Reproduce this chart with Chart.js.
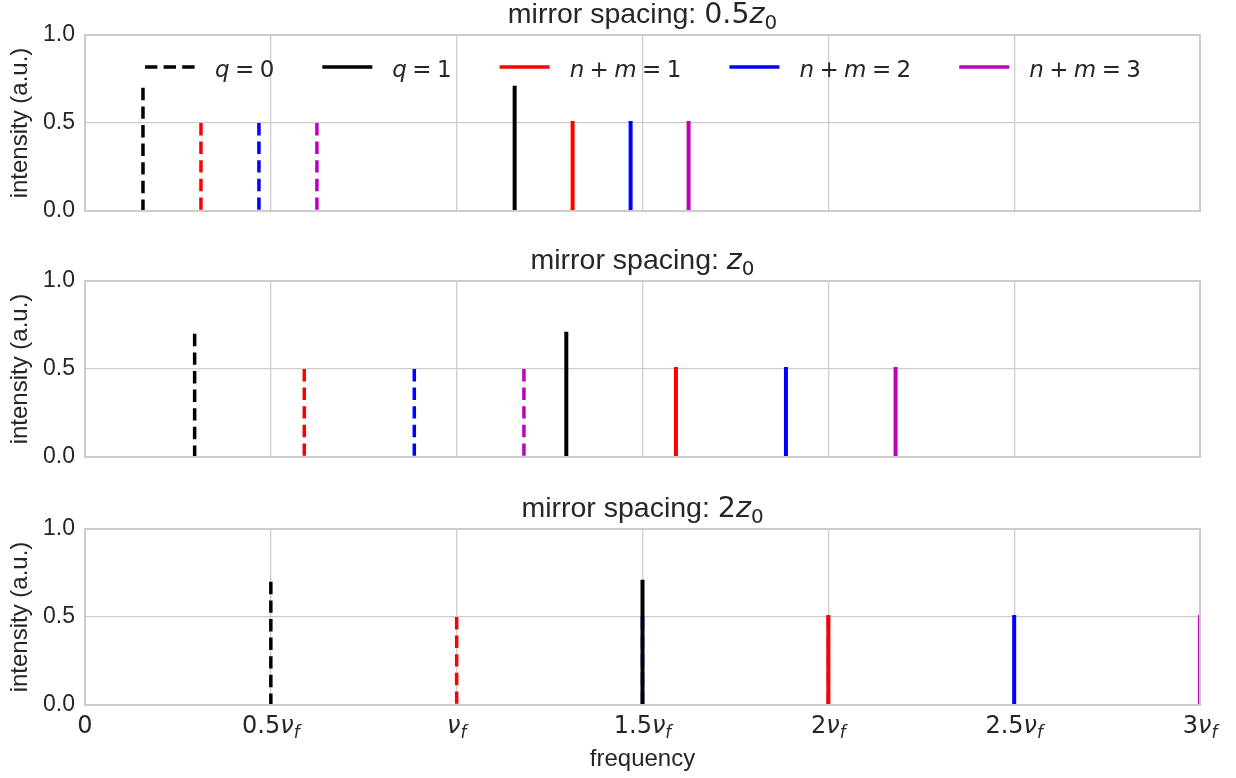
<!DOCTYPE html>
<html>
<head>
<meta charset="utf-8">
<title>mirror spacing</title>
<script src="https://cdn.jsdelivr.net/npm/chart.js@4.4.1/dist/chart.umd.min.js"></script>
<style>
  html, body { margin: 0; padding: 0; background: #fff; }
  #wrap { position: relative; width: 1236px; height: 778px; }
  .panel { position: absolute; left: 0; width: 1236px; }
</style>
</head>
<body>
<div id="wrap">
  <div class="panel" style="top:0px;height:247px"><canvas id="panel0"></canvas></div>
  <div class="panel" style="top:246px;height:247px"><canvas id="panel1"></canvas></div>
  <div class="panel" style="top:494px;height:284px"><canvas id="panel2"></canvas></div>
</div>
<script>
// mirror spacing in units of z0, one per panel
const spacingLabels = ["0.5", "", "2"];
// peak positions in units of nu_f, for n+m = 0,1,2,3
const q0Freq = [
  [0.156, 0.312, 0.468, 0.624],
  [0.295, 0.590, 0.886, 1.181],
  [0.5, 1.0, 1.5, 2.0],
];
const q1Freq = [
  [1.156, 1.312, 1.468, 1.624],
  [1.295, 1.590, 1.886, 2.181],
  [1.5, 2.0, 2.5, 3.0],
];
const modeHeights = [0.7, 0.5, 0.5, 0.5];
const legendLabels = ["q=0", "q=1", "n+m=1", "n+m=2", "n+m=3"];
const xTickValues = [0, 0.5, 1, 1.5, 2, 2.5, 3];
const xTickLabels = ["0", "0.5ν_f", "ν_f", "1.5ν_f", "2ν_f", "2.5ν_f", "3ν_f"];

const modeColors = ["#000000", "#ff0000", "#0000ff", "#bf00bf"];
const legendColors = ["#000000", "#000000", "#ff0000", "#0000ff", "#bf00bf"];
const textColor = "#262626";
const gridColor = "#cccccc";
const dash = [12.4, 6.2];

function mathFont(size, italic) {
  return (italic ? "italic " : "") + size + 'px "DejaVu Sans"';
}

// split a small mathtext-like string into runs: letters italic, _x subscript
function mathRuns(text, size) {
  const runs = [];
  for (let i = 0; i < text.length; i++) {
    const ch = text[i];
    if (ch === "_") {
      const s = text[++i];
      runs.push({ t: s, font: mathFont(size * 0.7, /[a-zA-Zν]/.test(s)), dy: size * 0.22 });
    } else if (ch === "+" || ch === "=") {
      runs.push({ t: ch, font: mathFont(size, false), pad: size * 0.235 });
    } else {
      runs.push({ t: ch, font: mathFont(size, /[a-zA-Zν]/.test(ch)) });
    }
  }
  return runs;
}

function drawRuns(ctx, runs, x, y, align) {
  ctx.save();
  ctx.textBaseline = "alphabetic";
  ctx.textAlign = "left";
  ctx.fillStyle = textColor;
  let total = 0;
  runs.forEach((r) => {
    ctx.font = r.font;
    r.w = ctx.measureText(r.t).width + 2 * (r.pad || 0);
    total += r.w;
  });
  let cx = align === "center" ? x - total / 2 : x;
  runs.forEach((r) => {
    ctx.font = r.font;
    ctx.fillText(r.t, cx + (r.pad || 0), y + (r.dy || 0));
    cx += r.w;
  });
  ctx.restore();
  return total;
}

function drawLegend(ctx) {
  let x = 145;
  const y = 67;
  legendLabels.forEach((lab, i) => {
    ctx.save();
    ctx.strokeStyle = legendColors[i];
    ctx.lineWidth = 3.6;
    ctx.lineCap = "butt";
    ctx.setLineDash(i === 0 ? dash : []);
    ctx.beginPath();
    ctx.moveTo(x, y);
    ctx.lineTo(x + 50, y);
    ctx.stroke();
    ctx.restore();
    const w = drawRuns(ctx, mathRuns(lab, 23), x + 70, y + 10, "left");
    x += 70 + w + 48;
  });
}

const panelDeco = {
  id: "panelDeco",
  afterDatasetsDraw(chart, args, opts) {
    const { ctx, chartArea: a } = chart;
    ctx.save();
    ctx.strokeStyle = gridColor;
    ctx.lineWidth = 2;
    ctx.strokeRect(a.left, a.top, a.right - a.left, a.bottom - a.top);
    ctx.restore();
  },
  afterDraw(chart, args, opts) {
    const { ctx, chartArea: a } = chart;
    const p = opts.index;
    const cx = (a.left + a.right) / 2;
    const title = [{ t: "mirror spacing: ", font: '28.5px "Liberation Sans"' }]
      .concat(mathRuns(spacingLabels[p] + "z_0", 28.5));
    drawRuns(ctx, title, cx, a.top - 12.5, "center");
    if (p === 0) drawLegend(ctx);
    if (p === 2) {
      const xs = chart.scales.x;
      xTickValues.forEach((v, i) => {
        drawRuns(ctx, mathRuns(xTickLabels[i], 24), xs.getPixelForValue(v), a.bottom + 28, "center");
      });
    }
  },
};

function buildDatasets(p) {
  const sets = [];
  [q0Freq[p], q1Freq[p]].forEach((freqs, q) => {
    freqs.forEach((f, k) => {
      sets.push({
        // drawn from the top down, so the dash pattern starts at the peak
        data: [{ x: f, y: modeHeights[k] }, { x: f, y: 0 }],
        borderColor: modeColors[k],
        borderWidth: q === 0 ? 3.5 : 4,
        borderDash: q === 0 ? dash : [],
        borderCapStyle: q === 0 ? "butt" : "square",
        pointRadius: 0,
        fill: false,
        clip: 0,
        order: q === 0 ? 1 : 0,
      });
    });
  });
  return sets;
}

function makePanel(p) {
  const last = p === 2;
  new Chart(document.getElementById("panel" + p), {
    type: "line",
    data: { datasets: buildDatasets(p) },
    plugins: [panelDeco],
    options: {
      responsive: true,
      maintainAspectRatio: false,
      animation: false,
      layout: { padding: { top: 35, right: 36, bottom: last ? 0 : 36, left: 0 } },
      plugins: {
        legend: { display: false },
        tooltip: { enabled: false },
        panelDeco: { index: p },
      },
      scales: {
        x: {
          type: "linear",
          min: 0,
          max: 3,
          ticks: { display: false, stepSize: 0.5 },
          grid: { color: gridColor, lineWidth: 1.3, drawTicks: false },
          border: { display: false },
          title: {
            display: last,
            text: "frequency",
            color: textColor,
            font: { family: "Liberation Sans", size: 24 },
            padding: { top: 0, bottom: 4 },
          },
          afterFit: (s) => { s.height = last ? 73 : 0; },
        },
        y: {
          min: 0,
          max: 1,
          ticks: {
            stepSize: 0.5,
            padding: 10,
            color: textColor,
            font: { family: "Liberation Sans", size: 23 },
            callback: (v) => v.toFixed(1),
          },
          grid: { color: gridColor, lineWidth: 1.3, drawTicks: false },
          border: { display: false },
          title: {
            display: true,
            text: "intensity (a.u.)",
            color: textColor,
            font: { family: "Liberation Sans", size: 24 },
            padding: { top: 6, bottom: 0 },
          },
          afterFit: (s) => { s.width = 85; },
        },
      },
    },
  });
}

[0, 1, 2].forEach(makePanel);
</script>
</body>
</html>
